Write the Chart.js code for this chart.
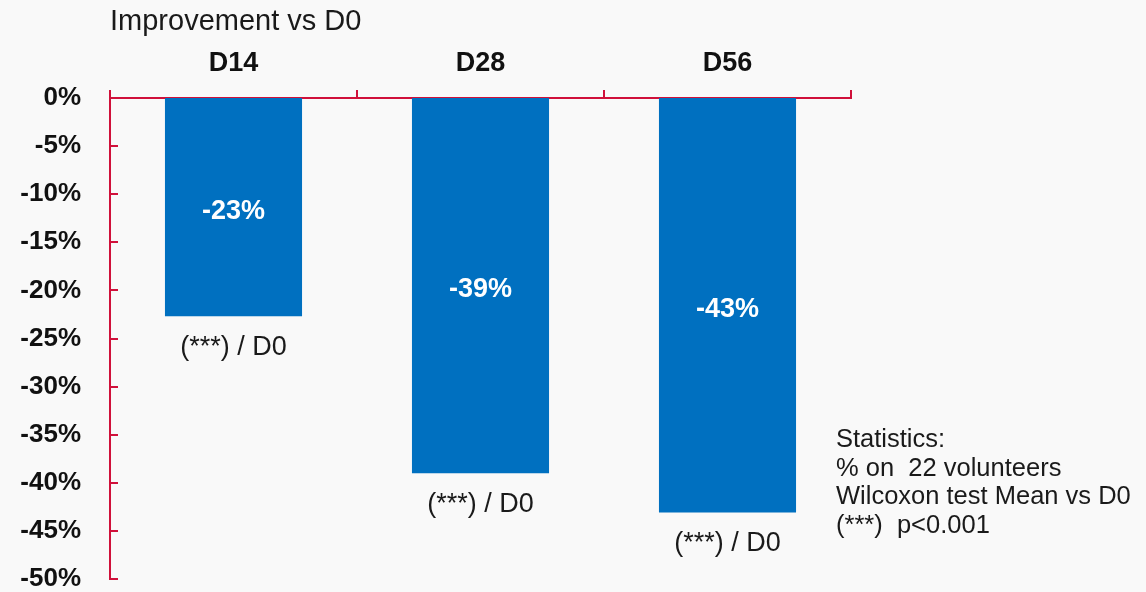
<!DOCTYPE html>
<html>
<head>
<meta charset="utf-8">
<script src="https://cdn.jsdelivr.net/npm/chart.js@4/dist/chart.umd.min.js"></script>
<style>
  body { margin: 0; background: #f9f9f9; }
  #wrap { width: 1146px; height: 592px; }
</style>
</head>
<body>
<div id="wrap"><canvas id="improvementChart" width="1146" height="592"></canvas></div>
<script>
const categories = ['D14', 'D28', 'D56'];
const improvement = [-22.7, -39.0, -43.1];
const barLabels = ['-23%', '-39%', '-43%'];
const signifLabels = ['(***) / D0', '(***) / D0', '(***) / D0'];
const yTicks = [0, -5, -10, -15, -20, -25, -30, -35, -40, -45, -50];
const statsLines = ['Statistics:', '% on  22 volunteers', 'Wilcoxon test Mean vs D0', '(***)  p<0.001'];

const FONT = '"Liberation Sans", Arial, sans-serif';
const AXIS_RED = '#d0103a';
const BAR_BLUE = '#0070c0';

// etiquettes dans les barres + significativité dessous + axe Y rouge
const extrasPlugin = {
    id: 'extras',
    afterDatasetsDraw(chart) {
        const ctx = chart.ctx;
        const meta = chart.getDatasetMeta(0);
        ctx.save();
        ctx.textAlign = 'center';
        ctx.textBaseline = 'middle';
        meta.data.forEach((bar, i) => {
            ctx.fillStyle = '#ffffff';
            ctx.font = 'bold 27px ' + FONT;
            ctx.fillText(barLabels[i], bar.x, (bar.y + bar.base) / 2 + 4);
            ctx.fillStyle = '#1a1a1a';
            ctx.font = '27px ' + FONT;
            ctx.fillText(signifLabels[i], bar.x, bar.y + 31);
        });
        ctx.restore();
    },
    afterDraw(chart) {
        const ctx = chart.ctx;
        const y = chart.scales.y;
        ctx.save();
        ctx.strokeStyle = AXIS_RED;
        ctx.lineWidth = 2;
        yTicks.forEach(v => {
            const py = Math.round(y.getPixelForValue(v));
            ctx.beginPath();
            ctx.moveTo(y.right, py);
            ctx.lineTo(y.right + 8, py);
            ctx.stroke();
        });
        ctx.fillStyle = '#1a1a1a';
        ctx.font = '25.5px ' + FONT;
        ctx.textAlign = 'left';
        ctx.textBaseline = 'middle';
        statsLines.forEach((line, i) => {
            ctx.fillText(line, 836, 440 + i * 28.7);
        });
        ctx.restore();
    }
};

const ctx = document.getElementById('improvementChart').getContext('2d');
new Chart(ctx, {
    type: 'bar',
    data: {
        labels: categories,
        datasets: [{
            data: improvement,
            backgroundColor: BAR_BLUE,
            categoryPercentage: 1,
            barPercentage: 0.555
        }]
    },
    options: {
        responsive: false,
        animation: false,
        layout: { padding: { left: 0, top: 0, right: 295, bottom: 13 } },
        plugins: {
            legend: { display: false },
            tooltip: { enabled: false }
        },
        scales: {
            x: {
                position: 'top',
                afterFit: (scale) => { scale.height = 98; },
                grid: {
                    drawOnChartArea: false,
                    offset: true,
                    tickLength: 8,
                    color: AXIS_RED,
                    lineWidth: 2
                },
                border: { color: AXIS_RED, width: 2 },
                ticks: {
                    padding: 10,
                    color: '#111',
                    font: { family: FONT, size: 27, weight: 'bold' }
                },
                title: {
                    display: true,
                    text: 'Improvement vs D0',
                    align: 'start',
                    color: '#1a1a1a',
                    padding: { top: 5, bottom: 0 },
                    font: { family: FONT, size: 29 }
                }
            },
            y: {
                min: -50,
                max: 0,
                afterFit: (scale) => {
                    scale.width = 110;
                    scale.paddingTop = 0;
                    scale.paddingBottom = 0;
                },
                grid: { display: false, drawTicks: false },
                border: { display: true, color: AXIS_RED, width: 2 },
                ticks: {
                    stepSize: 5,
                    padding: 29,
                    color: '#111',
                    font: { family: FONT, size: 26, weight: 'bold' },
                    callback: (value) => value + '%'
                }
            }
        }
    },
    plugins: [extrasPlugin]
});
</script>
</body>
</html>
